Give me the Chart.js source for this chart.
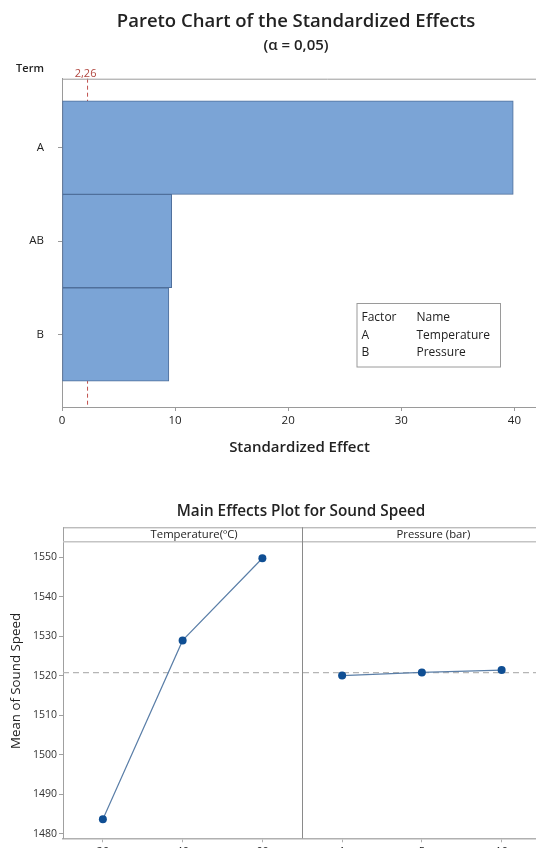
<!DOCTYPE html>
<html><head><meta charset="utf-8">
<script src="https://cdn.jsdelivr.net/npm/chart.js@4"></script>
<style>
html,body{margin:0;padding:0;background:#fff;width:536px;height:848px;overflow:hidden;}
#wrap{position:relative;width:536px;height:848px;overflow:hidden;background:#fff;}
#c1{position:absolute;left:0;top:0;}
#c2{position:absolute;left:0;top:490px;}
</style></head><body>
<div id="wrap">
<canvas id="c1" width="592" height="470"></canvas>
<canvas id="c2" width="602" height="380"></canvas>
</div>
<script>
// ---- Pareto data ----
const paretoTitle = 'Pareto Chart of the Standardized Effects';
const paretoSubtitle = '(α = 0,05)';
const terms = ['A', 'AB', 'B'];
const effects = [39.9, 9.7, 9.45];
const critical = 2.26;
const criticalLabel = '2,26';
const effectTicks = [0, 10, 20, 30, 40];
const factorCodes = ['A', 'B'];
const factorNames = ['Temperature', 'Pressure'];

// ---- Main effects data ----
const mainTitle = 'Main Effects Plot for Sound Speed';
const yTitle = 'Mean of Sound Speed';
const panelHeaders = ['Temperature(ºC)', 'Pressure (bar)'];
const tempLevels = ['20', '40', '60'];
const tempMeans = [1483.7, 1529.0, 1549.8];
const pressLevels = ['1', '5', '10'];
const pressMeans = [1520.1, 1520.9, 1521.5];
const speedTicks = [1480, 1490, 1500, 1510, 1520, 1530, 1540, 1550];

const FONT = "'Open Sans', 'Noto Sans', sans-serif";
Chart.defaults.font.family = FONT;
Chart.defaults.color = '#222';

const paretoDecor = {
  id: 'paretoDecor',
  beforeDatasetsDraw(chart) {
    const {ctx, chartArea: a, scales: {x}} = chart;
    const cx = x.getPixelForValue(critical);
    ctx.save();
    ctx.strokeStyle = '#C0504D';
    ctx.lineWidth = 1;
    ctx.setLineDash([4, 3]);
    ctx.beginPath(); ctx.moveTo(cx, a.top); ctx.lineTo(cx, a.bottom); ctx.stroke();
    ctx.restore();
  },
  afterDatasetsDraw(chart) {
    const {ctx, chartArea: a, scales: {x}} = chart;
    ctx.save();
    ctx.strokeStyle = '#9a9a9a'; ctx.lineWidth = 1;
    ctx.beginPath(); ctx.moveTo(a.left, a.top + 0.5); ctx.lineTo(a.right + 60, a.top + 0.5); ctx.stroke();
    ctx.fillStyle = '#222'; ctx.textAlign = 'center'; ctx.textBaseline = 'alphabetic';
    ctx.font = "600 18.5px " + FONT;
    ctx.fillText(paretoTitle, 296, 26.7);
    ctx.font = "600 15px " + FONT;
    ctx.fillText(paretoSubtitle, 296, 49.8);
    ctx.textBaseline = 'middle';
    ctx.font = "600 11px " + FONT;
    ctx.fillText('Term', a.left - 32, a.top - 10);
    ctx.font = "11px " + FONT;
    ctx.fillStyle = '#B0463F';
    ctx.fillText(criticalLabel, x.getPixelForValue(critical) - 2, a.top - 5);
    const bl = a.right - 180.5, bt = a.bottom - 104, bw = 143.5, bh = 63.5;
    ctx.fillStyle = '#fff';
    ctx.fillRect(bl, bt, bw, bh);
    ctx.strokeStyle = '#9a9a9a';
    ctx.strokeRect(bl + 0.5, bt + 0.5, bw, bh);
    ctx.fillStyle = '#222'; ctx.textAlign = 'left';
    ctx.font = "12px " + FONT;
    ctx.fillText('Factor', bl + 5, bt + 14.5);
    ctx.fillText('Name', bl + 60, bt + 14.5);
    factorCodes.forEach((c, i) => {
      ctx.fillText(c, bl + 5, bt + 32.2 + i * 17.4);
      ctx.fillText(factorNames[i], bl + 60, bt + 32.2 + i * 17.4);
    });
    ctx.restore();
  }
};

new Chart(document.getElementById('c1'), {
  type: 'bar',
  data: {
    datasets: [{
      data: terms.map((t, i) => ({x: effects[i], y: i})),
      backgroundColor: '#7BA4D6',
      borderColor: '#4F6F9B',
      borderWidth: 1,
      borderSkipped: false,
      barPercentage: 1,
      categoryPercentage: 1
    }]
  },
  options: {
    indexAxis: 'y',
    responsive: false,
    animation: false,
    devicePixelRatio: 1,
    layout: {padding: {left: 0, right: 55, top: 78.7, bottom: 0}},
    plugins: {
      legend: {display: false},
      tooltip: {enabled: false},
      title: {display: false},
      subtitle: {display: false}
    },
    scales: {
      x: {
        type: 'linear', position: 'bottom', min: 0, max: 42,
        afterBuildTicks: s => { s.ticks = effectTicks.map(v => ({value: v})); },
        afterFit: s => { s.height = 63; },
        grid: {drawOnChartArea: false, drawTicks: true, tickLength: 4, color: '#9a9a9a'},
        border: {color: '#9a9a9a'},
        ticks: {font: {size: 11.5}, color: '#222', padding: 3, maxRotation: 0, autoSkip: false},
        title: {display: true, text: 'Standardized Effect', font: {size: 15, weight: '600'},
          color: '#222', padding: {top: 0, bottom: 13}}
      },
      y: {
        type: 'linear', reverse: true, offset: false, min: -0.738, max: 2.776,
        afterBuildTicks: s => { s.ticks = terms.map((t, i) => ({value: i})); },
        afterFit: s => { s.width = 62; },
        grid: {drawOnChartArea: false, drawTicks: true, tickLength: 4, color: '#9a9a9a', offset: false},
        border: {color: '#9a9a9a'},
        ticks: {font: {size: 11.5}, color: '#222', padding: 14, autoSkip: false,
          callback: v => terms[v]}
      }
    }
  },
  plugins: [paretoDecor]
});

const grandMean = tempMeans.reduce((s, v) => s + v, 0) / tempMeans.length;

const mainDecor = {
  id: 'mainDecor',
  beforeDatasetsDraw(chart) {
    const {ctx, chartArea: a, scales: {x, y}} = chart;
    const stripTop = a.top - 14.4;
    const divX = (x.getPixelForValue(2) + x.getPixelForValue(3)) / 2;
    ctx.save();
    const my = y.getPixelForValue(grandMean);
    ctx.strokeStyle = '#b5b5b5'; ctx.lineWidth = 1.2; ctx.setLineDash([6, 4]);
    ctx.beginPath(); ctx.moveTo(a.left, my); ctx.lineTo(a.right, my); ctx.stroke();
    ctx.setLineDash([]);
    ctx.strokeStyle = '#a0a0a0'; ctx.lineWidth = 1;
    ctx.beginPath(); ctx.moveTo(a.left, stripTop + 0.5); ctx.lineTo(a.right, stripTop + 0.5); ctx.stroke();
    ctx.beginPath(); ctx.moveTo(a.left + 0.5, stripTop); ctx.lineTo(a.left + 0.5, a.top); ctx.stroke();
    ctx.strokeStyle = '#c4c4c4'; ctx.lineWidth = 1.5;
    ctx.beginPath(); ctx.moveTo(a.left, a.top); ctx.lineTo(a.right, a.top); ctx.stroke();
    ctx.strokeStyle = '#8a8a8a'; ctx.lineWidth = 1;
    ctx.beginPath(); ctx.moveTo(Math.round(divX) + 0.5, stripTop); ctx.lineTo(Math.round(divX) + 0.5, a.bottom); ctx.stroke();
    ctx.font = "11.3px " + FONT;
    ctx.fillStyle = '#222'; ctx.textAlign = 'center'; ctx.textBaseline = 'middle';
    ctx.fillText(panelHeaders[0], x.getPixelForValue(1) + 11.5, stripTop + 7.5);
    ctx.fillText(panelHeaders[1], x.getPixelForValue(4) + 11.5, stripTop + 7.5);
    ctx.font = "600 15.3px " + FONT;
    ctx.textBaseline = 'alphabetic';
    ctx.fillText(mainTitle, 301, 26);
    // y axis title
    ctx.save();
    ctx.translate(16, (a.top + a.bottom) / 2 - 9);
    ctx.rotate(-Math.PI / 2);
    ctx.font = "13.3px " + FONT;
    ctx.textBaseline = 'middle';
    ctx.fillText(yTitle, 0, 0);
    ctx.restore();
    ctx.restore();
  }
};

const lineStyle = {
  borderColor: '#5B7FA8', borderWidth: 1.2, pointRadius: 4,
  pointBackgroundColor: '#0F4E93', pointBorderColor: '#0F4E93', pointBorderWidth: 0,
  tension: 0, spanGaps: false, fill: false
};

new Chart(document.getElementById('c2'), {
  type: 'line',
  data: {
    labels: tempLevels.concat(pressLevels),
    datasets: [
      Object.assign({data: tempMeans.concat(pressLevels.map(() => null))}, lineStyle),
      Object.assign({data: tempLevels.map(() => null).concat(pressMeans)}, lineStyle)
    ]
  },
  options: {
    responsive: false,
    animation: false,
    devicePixelRatio: 1,
    layout: {padding: {left: 0, right: 60.5, top: 51.7, bottom: 0}},
    plugins: {
      legend: {display: false},
      tooltip: {enabled: false},
      title: {display: false}
    },
    scales: {
      x: {
        type: 'category', offset: true,
        afterFit: s => { s.height = 31.7; },
        grid: {drawOnChartArea: false, drawTicks: true, tickLength: 4, color: '#b0b0b0', offset: false},
        border: {color: '#b0b0b0', width: 1.5},
        ticks: {font: {size: 11}, color: '#222', padding: 3, maxRotation: 0, autoSkip: false}
      },
      y: {
        type: 'linear', min: 1478.9, max: 1554.0,
        afterBuildTicks: s => { s.ticks = speedTicks.map(v => ({value: v})); },
        afterFit: s => { s.width = 63; },
        grid: {drawOnChartArea: false, drawTicks: true, tickLength: 4, color: '#a0a0a0'},
        border: {color: '#a0a0a0'},
        ticks: {font: {size: 10.5}, color: '#333', padding: 2, autoSkip: false,
          callback: v => String(v)}
      }
    }
  },
  plugins: [mainDecor]
});
</script>
</body></html>
